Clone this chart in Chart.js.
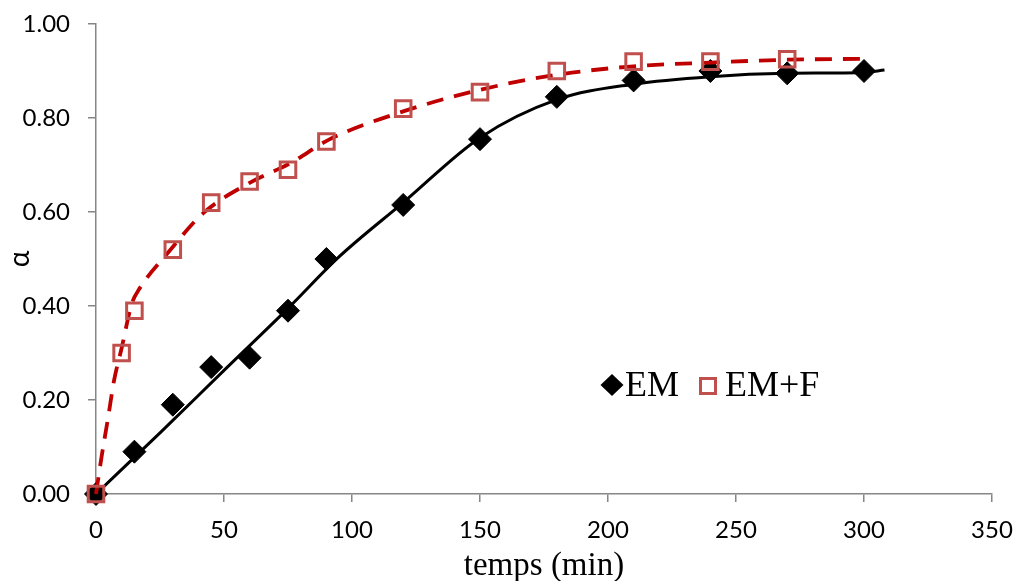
<!DOCTYPE html>
<html>
<head>
<meta charset="utf-8">
<title>EM / EM+F</title>
<script src="https://cdn.jsdelivr.net/npm/chart.js@4/dist/chart.umd.min.js"></script>
<style>
  html, body { margin: 0; padding: 0; background: #fff; }
  #wrap { position: relative; width: 1014px; height: 581px; }
</style>
</head>
<body>
<div id="wrap"><canvas id="chart"></canvas></div>
<script>
// measured points
const emTime = [0, 15, 30, 45, 60, 75, 90, 120, 150, 180, 210, 240, 270, 300];
const emAlpha = [0, 0.09, 0.19, 0.27, 0.29, 0.39, 0.50, 0.615, 0.755, 0.845, 0.88, 0.90, 0.895, 0.90];
const emfTime = [0, 10, 15, 30, 45, 60, 75, 90, 120, 150, 180, 210, 240, 270];
const emfAlpha = [0, 0.30, 0.39, 0.52, 0.62, 0.665, 0.69, 0.75, 0.82, 0.855, 0.90, 0.92, 0.92, 0.925];

// fitted curves
const emFitTime = [0, 25, 50, 75, 95, 120, 150, 180, 210, 240, 270, 300, 308];
const emFitAlpha = [0, 0.13, 0.263, 0.395, 0.505, 0.62, 0.758, 0.839, 0.872, 0.888, 0.895, 0.897, 0.902];
const emfFitTime = [0, 2.2, 4.8, 7, 10, 14, 17, 27.6, 42, 60, 76, 91, 120, 150, 180, 210, 240, 270, 300];
const emfFitAlpha = [0, 0.08, 0.165, 0.24, 0.31, 0.405, 0.437, 0.51, 0.598, 0.662, 0.704, 0.754, 0.814, 0.86, 0.892, 0.91, 0.918, 0.924, 0.926];

const seriesLabels = ['EM', 'EM+F'];
const xTitle = 'temps (min)';
const yTitle = 'α';

const AXIS = '#868686';
const RED_MARK = '#c0504d';
const RED_LINE = '#c00000';
const TICK_FONT = { family: 'Lato, "Open Sans", sans-serif', size: 24 };

const pts = (xs, ys) => xs.map((x, i) => ({ x, y: ys[i] }));

// legend sits inside the plot, like the original
const insideLegend = {
  id: 'insideLegend',
  afterDraw(chart) {
    const { ctx, chartArea: a } = chart;
    const y = a.top + 361;
    ctx.save();
    // diamond
    let cx = a.left + 516;
    ctx.fillStyle = '#000';
    ctx.beginPath();
    ctx.moveTo(cx - 11.5, y);
    ctx.lineTo(cx, y - 11);
    ctx.lineTo(cx + 11.5, y);
    ctx.lineTo(cx, y + 11);
    ctx.closePath();
    ctx.fill();
    ctx.font = '36px "Liberation Serif", "Times New Roman", serif';
    ctx.textBaseline = 'alphabetic';
    ctx.textAlign = 'left';
    ctx.fillText(seriesLabels[0], a.left + 529, y + 11);
    // square
    cx = a.left + 612;
    ctx.strokeStyle = RED_MARK;
    ctx.lineWidth = 3;
    ctx.strokeRect(cx - 7.5, y - 6.5, 15, 15);
    ctx.fillStyle = '#000';
    ctx.fillText(seriesLabels[1], a.left + 629, y + 11);
    ctx.restore();
  }
};

new Chart(document.getElementById('chart'), {
  type: 'scatter',
  data: {
    datasets: [
      {
        label: seriesLabels[1],
        data: pts(emfTime, emfAlpha),
        pointStyle: 'rect',
        pointRadius: 11,
        pointBorderWidth: 3,
        pointBorderColor: RED_MARK,
        pointBackgroundColor: 'rgba(0,0,0,0)',
        showLine: false,
        clip: false,
        order: 1
      },
      {
        label: 'fit EM+F',
        data: pts(emfFitTime, emfFitAlpha),
        showLine: true,
        borderColor: RED_LINE,
        borderWidth: 3.8,
        borderDash: [17, 11],
        cubicInterpolationMode: 'monotone',
        pointRadius: 0,
        clip: false,
        order: 2
      },
      {
        label: seriesLabels[0],
        data: pts(emTime, emAlpha),
        pointStyle: 'rectRot',
        pointRadius: 11.5,
        pointBorderWidth: 1,
        pointBorderColor: '#000',
        pointBackgroundColor: '#000',
        showLine: false,
        clip: false,
        order: 3
      },
      {
        label: 'fit EM',
        data: pts(emFitTime, emFitAlpha),
        showLine: true,
        borderColor: '#000',
        borderWidth: 3,
        cubicInterpolationMode: 'monotone',
        pointRadius: 0,
        clip: false,
        order: 4
      }
    ]
  },
  options: {
    responsive: true,
    maintainAspectRatio: false,
    animation: false,
    devicePixelRatio: 1,
    layout: { padding: { top: 24, right: 22, left: 0, bottom: 0 } },
    plugins: {
      legend: { display: false },
      tooltip: { enabled: false }
    },
    scales: {
      x: {
        type: 'linear',
        min: 0,
        max: 350,
        // fixed box so the plot lands where the original's does
        afterFit: s => { s.height = 87; s.paddingLeft = 0; s.paddingRight = 0; },
        border: { display: true, color: AXIS, width: 1.5 },
        grid: { display: true, drawOnChartArea: false, drawTicks: true, tickLength: 8, color: AXIS, lineWidth: 1.5 },
        ticks: { stepSize: 50, padding: 14, color: '#000', font: TICK_FONT, maxRotation: 0 },
        title: {
          display: true,
          text: xTitle,
          color: '#000',
          font: { family: '"Liberation Serif", "Times New Roman", serif', size: 33, lineHeight: 0.9 },
          padding: { top: 0, bottom: 0 }
        }
      },
      y: {
        type: 'linear',
        min: 0,
        max: 1,
        afterFit: s => { s.width = 96; s.paddingTop = 0; s.paddingBottom = 0; },
        border: { display: true, color: AXIS, width: 1.5 },
        grid: { display: true, drawOnChartArea: false, drawTicks: true, tickLength: 8, color: AXIS, lineWidth: 1.5 },
        ticks: { stepSize: 0.2, padding: 18, color: '#000', font: TICK_FONT, callback: v => v.toFixed(2) },
        title: {
          display: true,
          text: yTitle,
          color: '#000',
          font: { family: 'Lato, "Open Sans", sans-serif', size: 28 },
          padding: { top: 3, bottom: 0 }
        }
      }
    }
  },
  plugins: [insideLegend]
});
</script>
</body>
</html>
